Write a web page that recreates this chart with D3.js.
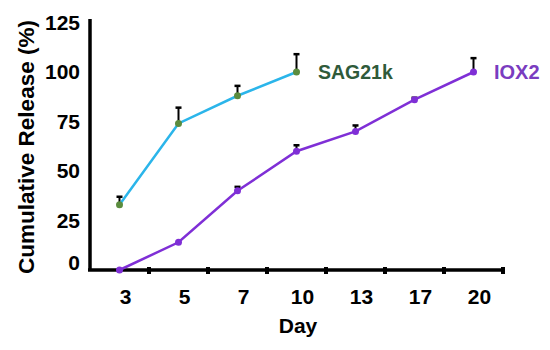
<!DOCTYPE html>
<html>
<head>
<meta charset="utf-8">
<script src="https://cdn.jsdelivr.net/npm/d3@7"></script>
<style>
  body { margin: 0; background: #fff; }
  text { font-family: "Liberation Sans", Arial, sans-serif; font-weight: bold; }
</style>
</head>
<body>
<div id="chart"></div>
<script>
// chart data
const days = ["3", "5", "7", "10", "13", "17", "20"];
const yTicks = [0, 25, 50, 75, 100, 125];

const sagDays = ["3", "5", "7", "10"];
const sagValues = [33, 74, 88, 100];
const sagErrors = [4, 8, 5, 9];

const ioxDays = ["3", "5", "7", "10", "13", "17", "20"];
const ioxValues = [0, 14, 40, 60, 70, 86, 100];
const ioxErrors = [0, 0, 2, 3, 3, 1, 7];

const width = 550, height = 350;

const svg = d3.select("#chart")
    .append("svg")
    .attr("width", width)
    .attr("height", height);

// x is categorical, points sit in the middle of each band
const x = d3.scaleBand().domain(days).range([90, 503]).padding(0);
const y = d3.scaleLinear().domain([0, 125]).range([270, 22.5]);
const cx = d => x(d) + x.bandwidth() / 2;

// axes
svg.append("line")
    .attr("x1", 90).attr("x2", 90)
    .attr("y1", 19).attr("y2", 271)
    .attr("stroke", "#000").attr("stroke-width", 3.5);
svg.append("line")
    .attr("x1", 88).attr("x2", 504)
    .attr("y1", 270).attr("y2", 270)
    .attr("stroke", "#000").attr("stroke-width", 3.5);

// little tick marks at band edges
svg.selectAll(".xtick")
    .data(days)
    .enter()
    .append("rect")
    .attr("x", d => x(d) + x.bandwidth() - 2)
    .attr("y", 267)
    .attr("width", 4)
    .attr("height", 7)
    .attr("fill", "#000");

svg.selectAll(".xlabel")
    .data(days)
    .enter()
    .append("text")
    .attr("x", d => cx(d) + 6)
    .attr("y", 304)
    .attr("text-anchor", "middle")
    .attr("font-size", 21)
    .text(d => d);

svg.selectAll(".ylabel")
    .data(yTicks)
    .enter()
    .append("text")
    .attr("x", 80)
    .attr("y", d => (d === 0 ? y(d) - 7 : y(d)) + 7)
    .attr("text-anchor", "end")
    .attr("font-size", 21)
    .text(d => d);

svg.append("text")
    .attr("x", 298)
    .attr("y", 333)
    .attr("text-anchor", "middle")
    .attr("font-size", 21)
    .text("Day");

svg.append("text")
    .attr("transform", "translate(34,147) rotate(-90)")
    .attr("text-anchor", "middle")
    .attr("font-size", 22.5)
    .text("Cumulative Release (%)");

function drawSeries(ds, vals, errs, lineColor, dotColor) {
    const pts = ds.map((d, i) => ({ d: d, v: vals[i], e: errs[i] }));

    // upper error bars with caps
    const eb = svg.selectAll(null).data(pts.filter(p => p.e > 0)).enter().append("g");
    eb.append("line")
        .attr("x1", p => cx(p.d)).attr("x2", p => cx(p.d))
        .attr("y1", p => y(p.v)).attr("y2", p => y(p.v + p.e))
        .attr("stroke", "#000").attr("stroke-width", 2);
    eb.append("line")
        .attr("x1", p => cx(p.d) - 3).attr("x2", p => cx(p.d) + 3)
        .attr("y1", p => y(p.v + p.e)).attr("y2", p => y(p.v + p.e))
        .attr("stroke", "#000").attr("stroke-width", 2.5);

    svg.append("path")
        .datum(pts)
        .attr("fill", "none")
        .attr("stroke", lineColor)
        .attr("stroke-width", 2.5)
        .attr("d", d3.line().x(p => cx(p.d)).y(p => y(p.v)));

    svg.selectAll(null)
        .data(pts)
        .enter()
        .append("circle")
        .attr("cx", p => cx(p.d))
        .attr("cy", p => y(p.v))
        .attr("r", 3.5)
        .attr("fill", dotColor);
}

drawSeries(sagDays, sagValues, sagErrors, "#2bb5ea", "#5b8c3e");
drawSeries(ioxDays, ioxValues, ioxErrors, "#7f2fd6", "#7f2fd6");

svg.append("text")
    .attr("x", 318)
    .attr("y", 79)
    .attr("font-size", 19.5)
    .attr("fill", "#2f5a3a")
    .text("SAG21k");

svg.append("text")
    .attr("x", 494)
    .attr("y", 79)
    .attr("font-size", 20)
    .attr("fill", "#7a3cc0")
    .text("IOX2");
</script>
</body>
</html>
